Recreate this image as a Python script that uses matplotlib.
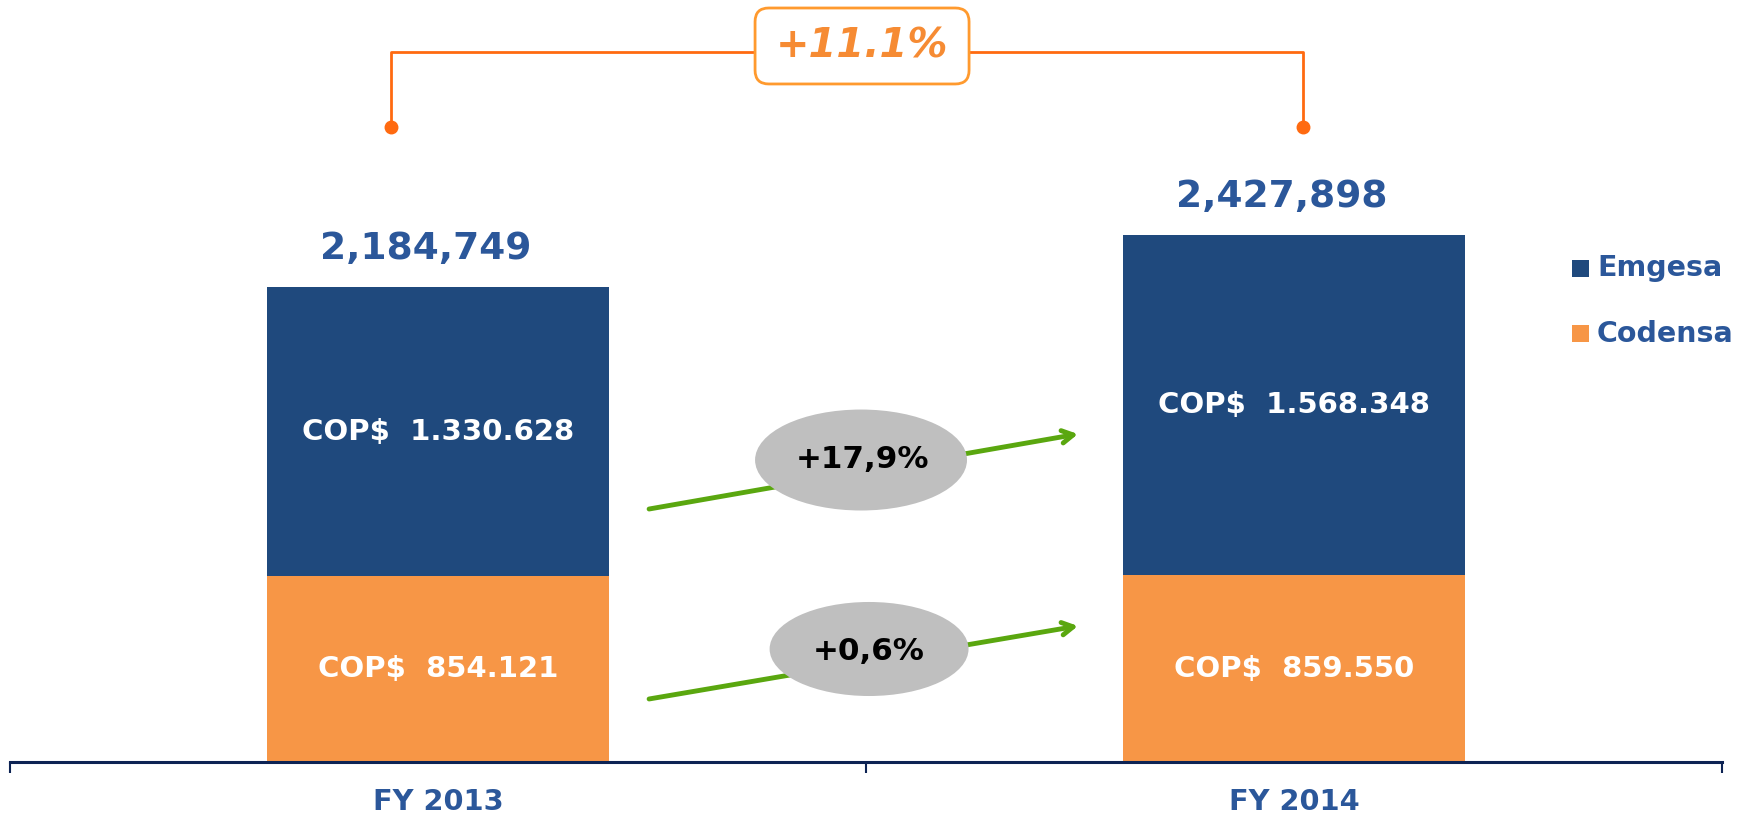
import matplotlib.pyplot as plt
from matplotlib.patches import Ellipse, FancyBboxPatch, Rectangle

# data
years = ["FY 2013", "FY 2014"]
codensa = [854121, 859550]
emgesa = [1330628, 1568348]
codensa_lbl = ["COP$  854.121", "COP$  859.550"]
emgesa_lbl = ["COP$  1.330.628", "COP$  1.568.348"]
total_lbl = ["2,184,749", "2,427,898"]
growth = ["+17,9%", "+0,6%"]
total_growth = "+11.1%"

navy = "#1F497D"
orange = "#F79646"
txt_blue = "#2B579A"
green = "#5AA70F"

W, H = 1746, 818
fig = plt.figure(figsize=(W / 100, H / 100), dpi=100)
ax = fig.add_axes([10 / W, 56 / H, 1712 / W, 762 / H])
ax.set_xlim(-0.5, 1.5)
ax.set_ylim(0, 3507500)

x = [0, 1]
ax.bar(x, codensa, width=0.4, color=orange)
ax.bar(x, emgesa, width=0.4, bottom=codensa, color=navy)

for i in x:
    ax.text(i, codensa[i] / 2, codensa_lbl[i], ha="center", va="center",
            color="white", fontsize=21, fontweight="bold")
    ax.text(i, codensa[i] + emgesa[i] / 2, emgesa_lbl[i], ha="center", va="center",
            color="white", fontsize=21, fontweight="bold")
    ax.annotate(total_lbl[i], (i, codensa[i] + emgesa[i]), xytext=(-12, 38),
                textcoords="offset pixels", ha="center", va="center",
                color=txt_blue, fontsize=27, fontweight="bold")

# axis styling
for s in ["top", "right", "left"]:
    ax.spines[s].set_visible(False)
ax.spines["bottom"].set_color("#0D2354")
ax.spines["bottom"].set_linewidth(2.2)
ax.set_yticks([])
ax.set_xticks([-0.5, 0.5, 1.5])
ax.set_xticklabels([])
ax.tick_params(axis="x", which="major", length=8, width=1.5, color="#0D2354", direction="out")
ax.set_xticks(x, years, minor=True)
ax.tick_params(axis="x", which="minor", length=0, pad=19, labelsize=20.8,
               labelcolor=txt_blue)
for lb in ax.get_xticklabels(minor=True):
    lb.set_fontweight("bold")

# growth arrows with ellipses
arrows = [((0.3733, 0.3320), (0.6238, 0.4304)), ((0.3733, 0.0827), (0.6238, 0.1785))]
ells = [((0.4971, 0.3963), 0.1238, 0.1325, (0.4977, 0.3976)),
        ((0.5018, 0.1483), 0.1162, 0.1234, (0.5018, 0.1444))]
for (a0, a1), (c, w, h, tpos), g in zip(arrows, ells, growth):
    ax.annotate("", xy=a1, xytext=a0, xycoords="axes fraction",
                arrowprops=dict(arrowstyle="->,head_length=0.8,head_width=0.45",
                                color=green, lw=3.5, shrinkA=0, shrinkB=0))
    ax.add_patch(Ellipse(c, w, h, transform=ax.transAxes, facecolor="#BFBFBF",
                         edgecolor="none", zorder=3))
    ax.text(tpos[0], tpos[1], g, transform=ax.transAxes, ha="center", va="center",
            fontsize=22.3, fontweight="bold", color="black", zorder=4)

# top bracket
line_c = "#FF6A10"
ax.plot([0.2225, 0.2225, 0.7553, 0.7553], [0.8333, 0.9318, 0.9318, 0.8333],
        transform=ax.transAxes, color=line_c, lw=2, clip_on=False)
ax.plot([0.2225, 0.7553], [0.8333, 0.8333], "o", transform=ax.transAxes,
        color=line_c, ms=9, clip_on=False)
ax.add_patch(FancyBboxPatch((0.4352, 0.8898), 0.1250, 0.0997,
                            boxstyle="round,pad=0,rounding_size=0.008",
                            mutation_aspect=1712 / 762, transform=ax.transAxes,
                            facecolor="white", edgecolor="#FF9A2E", lw=2,
                            zorder=5, clip_on=False))
ax.text(0.4977, 0.9396, total_growth, transform=ax.transAxes, ha="center",
        va="center", fontsize=28.8, fontweight="bold", style="italic",
        color="#F68B33", zorder=6)

# legend
for yc, col, name in [(268, navy, "Emgesa"), (334, orange, "Codensa")]:
    fig.add_artist(Rectangle((1572 / W, (H - yc - 8.5) / H), 17 / W, 17 / H,
                             transform=fig.transFigure, facecolor=col,
                             edgecolor="none"))
    fig.text(1597 / W, (H - yc) / H, name, ha="left", va="center",
             fontsize=20.5, fontweight="bold", color=txt_blue)

fig.savefig("out.png", dpi=100)
